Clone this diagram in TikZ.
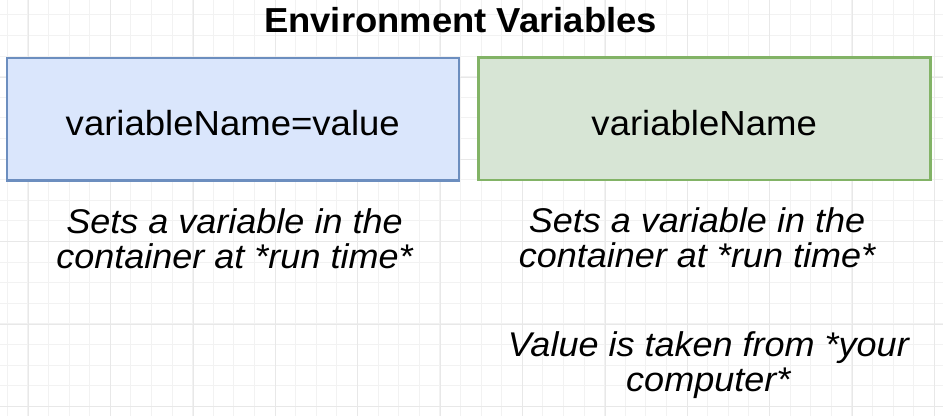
\documentclass[tikz,border=0pt]{standalone}
\usepackage{fontspec}
\setmainfont{Liberation Sans}[FakeStretch=1.05]
\definecolor{gridminor}{HTML}{F2F2F2}
\definecolor{gridmajor}{HTML}{E8E8E8}
\definecolor{boxblue}{HTML}{6C8EBF}
\definecolor{boxbluefill}{HTML}{DAE6FC}
\definecolor{boxgreen}{HTML}{82B366}
\definecolor{boxgreenfill}{HTML}{D7E5D5}
\begin{document}
\begin{tikzpicture}[x=1pt, y=-1pt,
  minorgrid/.style={draw=gridminor, line width=0.9pt},
  majorgrid/.style={draw=gridmajor, line width=0.9pt},
  varbox/.style={rectangle, line width=2.6pt, inner sep=0pt,
    minimum width=452pt, minimum height=122.7pt,
    text height=32.7pt, text depth=0pt,
    font=\fontsize{34.8}{38}\selectfont},
  bluebox/.style={varbox, draw=boxblue, fill=boxbluefill},
  greenbox/.style={varbox, draw=boxgreen, fill=boxgreenfill},
  heading/.style={inner sep=0pt, anchor=base, font=\bfseries\fontsize{34.7}{40}\selectfont},
  % anchor=base of a two-line note sits on the baseline of its last line
  note/.style={inner sep=0pt, anchor=base, align=center, font=\itshape\fontsize{34.3}{34.5}\selectfont}]

  \useasboundingbox (0,0) rectangle (943,416);
  \fill[white] (0,0) rectangle (943,416);

  % background grid: fine lines, with a stronger line every fourth step
  \foreach \k in {0,...,45} {\draw[minorgrid] (7.3+20.6*\k,0) -- (7.3+20.6*\k,416);}
  \foreach \k in {0,...,19} {\draw[minorgrid] (0,14.9+20.6*\k) -- (943,14.9+20.6*\k);}
  \foreach \k in {0,...,11} {\draw[majorgrid] (28.3+82.4*\k,0) -- (28.3+82.4*\k,416);}
  \foreach \k in {0,...,4} {\draw[majorgrid] (0,77.1+82.4*\k) -- (943,77.1+82.4*\k);}

  % heading
  \node[heading] (title) at (460.5,32.5) {Environment Variables};

  % the two forms of the option
  \node[bluebox] (withvalue) at (232.8,119.3) {variableName=value};
  \node[greenbox] (nameonly) at (704.2,118.8) {variableName};

  % explanations below each box
  \node[note] (withvaluenote) at (234.5,268) {Sets a variable in the\\container at *run time*};
  \node[note] (nameonlynote) at (697,267) {Sets a variable in the\\container at *run time*};
  \node[note] (sourcenote) at (708.3,391) {Value is taken from *your\\computer*};
\end{tikzpicture}
\end{document}
